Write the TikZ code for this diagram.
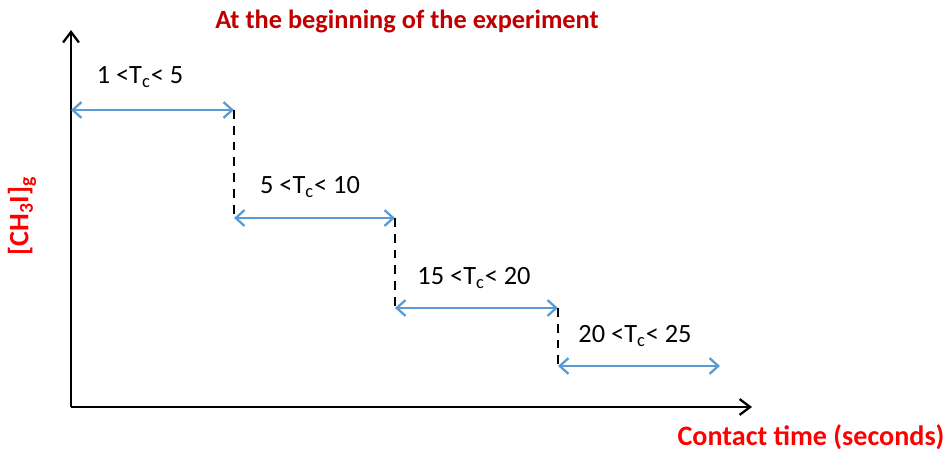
\documentclass[tikz,border=0pt]{standalone}
\usepackage{fontspec}
\setmainfont{Carlito}
\usepackage{tikz}
\usetikzlibrary{arrows.meta, positioning}
\definecolor{titlered}{RGB}{192,0,0}
\definecolor{axisred}{RGB}{255,0,0}
\definecolor{steplblue}{RGB}{91,155,213}
\tikzset{
  axisline/.style={-{Straight Barb[length=6pt, width=9pt]}, line width=1.3pt, color=black},
  stepline/.style={{Straight Barb[length=5pt, width=9pt]}-{Straight Barb[length=5pt, width=9pt]}, line width=1.3pt, color=steplblue},
  dropline/.style={dashed, dash pattern=on 5pt off 4pt, line width=1.3pt, color=black},
  steplabel/.style={font=\fontsize{15}{18}\selectfont, inner sep=0pt},
  redlabel/.style={font=\fontsize{16}{19}\selectfont\bfseries, text=axisred, inner sep=0pt},
}

\begin{document}
\begin{tikzpicture}[x=0.02cm, y=-0.02cm]
  \useasboundingbox (0,0) rectangle (946,450);
  % axes
  \coordinate (origin) at (71,407);
  \coordinate (ytop) at (71,30);
  \coordinate (xend) at (752,407);
  \draw[axisline] (origin) -- (ytop);
  \draw[axisline] (origin) -- (xend);
  % step end points
  \coordinate (a1) at (71,110);
  \coordinate (b1) at (234,110);
  \coordinate (a2) at (234,218);
  \coordinate (b2) at (395,218);
  \coordinate (a3) at (395,308);
  \coordinate (b3) at (558,308);
  \coordinate (a4) at (558,366);
  \coordinate (b4) at (720,366);
  \draw[stepline] (a1) -- (b1);
  \draw[stepline] (a2) -- (b2);
  \draw[stepline] (a3) -- (b3);
  \draw[stepline] (a4) -- (b4);
  \draw[dropline] (b1) -- (a2);
  \draw[dropline] (b2) -- (a3);
  \draw[dropline] (b3) -- (a4);
  % range labels
  \node[steplabel] (t1) at (140,77) {1 <T\textsubscript{c}< 5};
  \node[steplabel] (t2) at (310,187) {5 <T\textsubscript{c}< 10};
  \node[steplabel] (t3) at (474,278) {15 <T\textsubscript{c}< 20};
  \node[steplabel] (t4) at (635,336) {20 <T\textsubscript{c}< 25};
  % titles
  \node[redlabel, text=titlered, font=\fontsize{15}{18}\selectfont\bfseries] (title) at (407,21) {At the beginning of the experiment};
  \node[redlabel] (xlabel) at (811,437) {Contact time (seconds)};
  \node[redlabel, rotate=90] (ylabel) at (22,216) {[CH\textsubscript{3}I]\textsubscript{g}};
\end{tikzpicture}
\end{document}
